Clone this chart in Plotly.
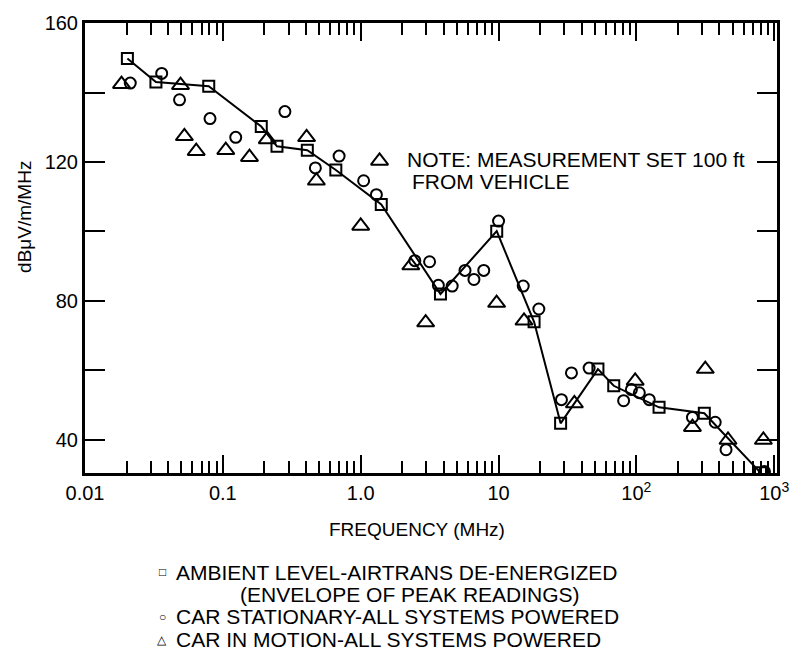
import plotly.graph_objects as go

# Ambient level (squares, connected by line)
amb_f = [0.0203, 0.0327, 0.079, 0.19, 0.247, 0.41, 0.66, 1.41, 3.79, 9.7, 18.1, 28.2, 52.6, 68.5, 146, 311, 795]
amb_v = [149.8, 143.0, 141.8, 130.2, 124.5, 123.4, 117.7, 107.8, 82.0, 100.1, 74.0, 44.8, 60.4, 55.6, 49.4, 47.7, 30.6]

# Car stationary (circles)
sta_f = [0.0213, 0.036, 0.0485, 0.0807, 0.124, 0.282, 0.469, 0.697, 1.05, 1.3, 2.47, 3.16, 3.66, 4.61, 5.71, 6.63,
         7.81, 10.0, 15.1, 19.6, 28.6, 33.8, 45.4, 80.8, 92, 105, 124, 255, 373, 447, 849]
sta_v = [142.7, 145.5, 137.9, 132.5, 127.1, 134.5, 118.3, 121.7, 114.6, 110.6, 91.6, 91.3, 84.5, 84.3, 88.8, 86.2,
         88.8, 103.0, 84.3, 77.7, 51.6, 59.3, 60.7, 51.3, 54.5, 53.6, 51.6, 46.5, 45.1, 37.2, 30.9]

# Car in motion (triangles)
mot_f = [0.0184, 0.0493, 0.0526, 0.0641, 0.105, 0.156, 0.21, 0.405, 0.477, 1.37, 1.0, 2.31, 2.96, 9.68, 15.3,
         35.5, 98, 255, 316, 462, 834]
mot_v = [142.4, 142.1, 127.4, 123.1, 123.4, 121.4, 126.5, 127.1, 114.6, 120.3, 101.6, 90.2, 73.8, 79.4, 74.3,
         50.5, 57.0, 43.7, 60.4, 40.0, 40.0]

x_tickvals = [0.01, 0.1, 1, 10, 100, 1000]
x_ticktext = ["0.01", "0.1", "1.0", "10", "10<sup>2</sup>", "10<sup>3</sup>"]
x_minor = [m * 10 ** e for e in range(-2, 3) for m in range(2, 10)]
y_tickvals = [40, 80, 120, 160]
y_ticktext = ["40", "80", "120", "160"]
y_minor = [60, 100, 140]

legend_lines = [
    ("\u25a1", "AMBIENT LEVEL-AIRTRANS DE-ENERGIZED"),
    ("", "(ENVELOPE OF PEAK READINGS)"),
    ("\u25cb", "CAR STATIONARY-ALL SYSTEMS POWERED"),
    ("\u25b3", "CAR IN MOTION-ALL SYSTEMS POWERED"),
]

FONT = "Liberation Sans, Arial, Helvetica, sans-serif"
W, H = 801, 652
L, R, T, B = 85, 784, 19, 473

def px(x):
    return (x - L) / (R - L)

def py(y):
    return (B - y) / (B - T)

fig = go.Figure()
fig.add_trace(go.Scatter(x=amb_f, y=amb_v, mode="lines+markers",
                         line=dict(color="black", width=2),
                         marker=dict(symbol="square-open", size=11, color="black", line=dict(width=2))))
fig.add_trace(go.Scatter(x=sta_f, y=sta_v, mode="markers",
                         marker=dict(symbol="circle-open", size=11, color="black", line=dict(width=2))))
fig.add_trace(go.Scatter(x=mot_f, y=mot_v, mode="markers",
                         marker=dict(symbol="triangle-up-open", size=15, color="black", line=dict(width=2))))

fig.update_layout(
    width=W, height=H, showlegend=False,
    paper_bgcolor="white", plot_bgcolor="white",
    margin=dict(l=L, r=W - R, t=T, b=H - B),
    font=dict(family=FONT, color="black", size=20),
)
fig.update_xaxes(type="log", range=[-2.0, 3.02], tickvals=x_tickvals, ticktext=x_ticktext,
                 ticks="inside", ticklen=18, tickwidth=2, tickcolor="black",
                 showline=True, linewidth=3, linecolor="black", mirror="ticks",
                 showgrid=False, zeroline=False, tickfont=dict(size=20),
                 minor=dict(tickvals=x_minor, ticks="inside", ticklen=12, tickwidth=1.5, tickcolor="black", showgrid=False))
fig.update_yaxes(range=[30.5, 160], tickvals=y_tickvals, ticktext=y_ticktext,
                 ticks="inside", ticklen=20, tickwidth=2, tickcolor="black",
                 showline=True, linewidth=3, linecolor="black", mirror="ticks",
                 showgrid=False, zeroline=False, tickfont=dict(size=20),
                 minor=dict(tickvals=y_minor, ticks="inside", ticklen=20, tickwidth=2, tickcolor="black", showgrid=False))

ann = []
ann.append(dict(text="FREQUENCY (MHz)", x=px(420), y=py(530), xref="paper", yref="paper",
                showarrow=False, font=dict(size=19), xanchor="center", yanchor="middle"))
ann.append(dict(text="dB\u03bcV/m/MHz", x=px(24), y=py(215), xref="paper", yref="paper",
                showarrow=False, font=dict(size=19), textangle=-90, xanchor="center", yanchor="middle"))
ann.append(dict(text="NOTE: MEASUREMENT SET 100 ft", x=px(408), y=py(157), xref="paper", yref="paper",
                showarrow=False, font=dict(size=21), xanchor="left", yanchor="middle"))
ann.append(dict(text="FROM VEHICLE", x=px(413), y=py(179), xref="paper", yref="paper",
                showarrow=False, font=dict(size=21), xanchor="left", yanchor="middle"))

leg_y = [573, 596, 618, 641]
for (sym, txt), yy in zip(legend_lines, leg_y):
    if sym:
        ann.append(dict(text=sym, x=px(163), y=py(yy), xref="paper", yref="paper", showarrow=False,
                        font=dict(size=12), xanchor="center", yanchor="middle"))
        ann.append(dict(text=txt, x=px(175), y=py(yy), xref="paper", yref="paper", showarrow=False,
                        font=dict(size=21), xanchor="left", yanchor="middle"))
    else:
        ann.append(dict(text=txt, x=px(240), y=py(yy), xref="paper", yref="paper", showarrow=False,
                        font=dict(size=21), xanchor="left", yanchor="middle"))
fig.update_layout(annotations=ann)

fig.write_html("out.html", post_script="document.body.style.margin='0';",
               config={"displayModeBar": False})
